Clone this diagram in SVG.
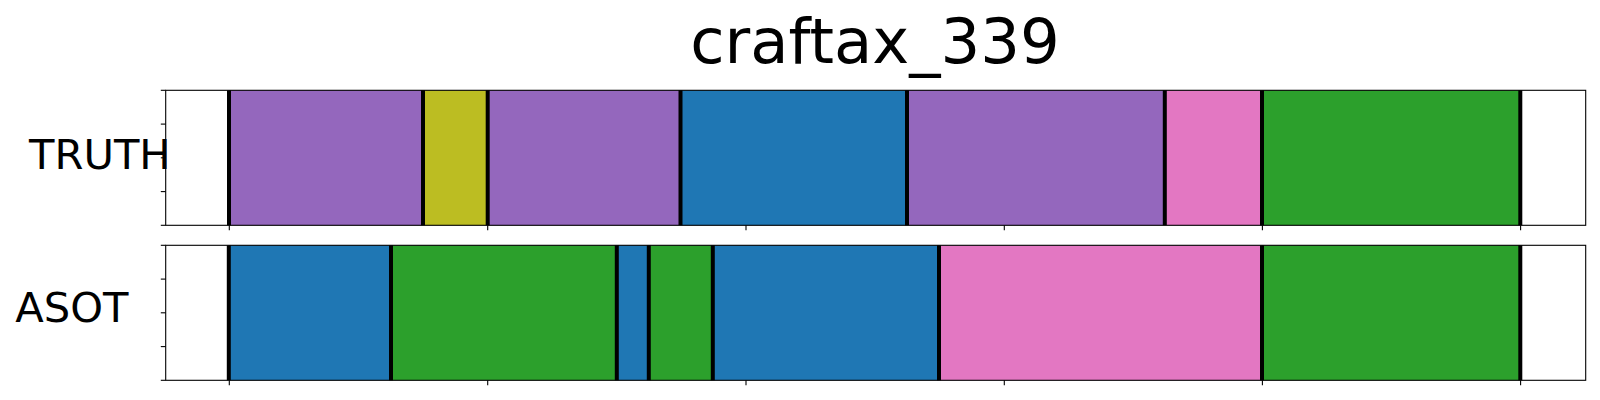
<svg xmlns="http://www.w3.org/2000/svg" width="1600" height="400" viewBox="0 0 1600 400">
<style>
.t{font-family:"DejaVu Sans","Liberation Sans",sans-serif;fill:#000}
.lbl{font-size:41.67px}
.ttl{font-size:62.5px}
.spine{fill:none;stroke:#000;stroke-width:1.1}
.tick{stroke:#000;stroke-width:1.1}
.b{stroke:#000;stroke-width:4}
.purple{fill:#9467bd}.olive{fill:#bcbd22}.blue{fill:#1f77b4}.pink{fill:#e377c2}.green{fill:#2ca02c}
</style>
<rect width="1600" height="400" fill="#fff"/>
<g id="title"><text class="t ttl" x="875" y="62.7" text-anchor="middle">craftax_339</text></g>

<g id="truth">
  <text class="t lbl" x="29" y="169.3">TRUTH</text>
  <g id="truth-segments">
    <rect class="purple" x="229" y="90.3" width="194" height="135"/>
    <rect class="olive" x="423" y="90.3" width="64.7" height="135"/>
    <rect class="purple" x="487.7" y="90.3" width="192.8" height="135"/>
    <rect class="blue" x="680.5" y="90.3" width="226.5" height="135"/>
    <rect class="purple" x="907" y="90.3" width="257.8" height="135"/>
    <rect class="pink" x="1164.8" y="90.3" width="97.2" height="135"/>
    <rect class="green" x="1262" y="90.3" width="258" height="135"/>
  </g>
  <g id="truth-bounds">
    <line class="b" x1="229" y1="90.3" x2="229" y2="225.3"/>
    <line class="b" x1="423" y1="90.3" x2="423" y2="225.3"/>
    <line class="b" x1="487.7" y1="90.3" x2="487.7" y2="225.3"/>
    <line class="b" x1="680.5" y1="90.3" x2="680.5" y2="225.3"/>
    <line class="b" x1="907" y1="90.3" x2="907" y2="225.3"/>
    <line class="b" x1="1164.8" y1="90.3" x2="1164.8" y2="225.3"/>
    <line class="b" x1="1262" y1="90.3" x2="1262" y2="225.3"/>
    <line class="b" x1="1520.3" y1="90.3" x2="1520.3" y2="225.3"/>
  </g>
  <rect class="spine" x="165.7" y="90.3" width="1420" height="135"/>
  <g id="truth-ticks">
    <line class="tick" x1="160.8" y1="90.3" x2="165.7" y2="90.3"/>
    <line class="tick" x1="160.8" y1="124.1" x2="165.7" y2="124.1"/>
    <line class="tick" x1="160.8" y1="157.8" x2="165.7" y2="157.8"/>
    <line class="tick" x1="160.8" y1="191.6" x2="165.7" y2="191.6"/>
    <line class="tick" x1="160.8" y1="225.3" x2="165.7" y2="225.3"/>
    <line class="tick" x1="229.3" y1="225.3" x2="229.3" y2="230.2"/>
    <line class="tick" x1="487.7" y1="225.3" x2="487.7" y2="230.2"/>
    <line class="tick" x1="746" y1="225.3" x2="746" y2="230.2"/>
    <line class="tick" x1="1004.3" y1="225.3" x2="1004.3" y2="230.2"/>
    <line class="tick" x1="1262.4" y1="225.3" x2="1262.4" y2="230.2"/>
    <line class="tick" x1="1520.6" y1="225.3" x2="1520.6" y2="230.2"/>
  </g>
</g>

<g id="asot">
  <text class="t lbl" x="15.2" y="321.7">ASOT</text>
  <g id="asot-segments">
    <rect class="blue" x="229" y="245.3" width="162" height="135"/>
    <rect class="green" x="391" y="245.3" width="225.8" height="135"/>
    <rect class="blue" x="616.8" y="245.3" width="32" height="135"/>
    <rect class="green" x="648.8" y="245.3" width="64" height="135"/>
    <rect class="blue" x="712.8" y="245.3" width="226.2" height="135"/>
    <rect class="pink" x="939" y="245.3" width="323" height="135"/>
    <rect class="green" x="1262" y="245.3" width="258" height="135"/>
  </g>
  <g id="asot-bounds">
    <line class="b" x1="228.8" y1="245.3" x2="228.8" y2="380.3"/>
    <line class="b" x1="391" y1="245.3" x2="391" y2="380.3"/>
    <line class="b" x1="616.8" y1="245.3" x2="616.8" y2="380.3"/>
    <line class="b" x1="648.8" y1="245.3" x2="648.8" y2="380.3"/>
    <line class="b" x1="712.8" y1="245.3" x2="712.8" y2="380.3"/>
    <line class="b" x1="939" y1="245.3" x2="939" y2="380.3"/>
    <line class="b" x1="1262" y1="245.3" x2="1262" y2="380.3"/>
    <line class="b" x1="1520.3" y1="245.3" x2="1520.3" y2="380.3"/>
  </g>
  <rect class="spine" x="165.7" y="245.3" width="1420" height="135"/>
  <g id="asot-ticks">
    <line class="tick" x1="160.8" y1="245.3" x2="165.7" y2="245.3"/>
    <line class="tick" x1="160.8" y1="279.1" x2="165.7" y2="279.1"/>
    <line class="tick" x1="160.8" y1="312.8" x2="165.7" y2="312.8"/>
    <line class="tick" x1="160.8" y1="346.6" x2="165.7" y2="346.6"/>
    <line class="tick" x1="160.8" y1="380.3" x2="165.7" y2="380.3"/>
    <line class="tick" x1="229.3" y1="380.3" x2="229.3" y2="385.2"/>
    <line class="tick" x1="487.7" y1="380.3" x2="487.7" y2="385.2"/>
    <line class="tick" x1="746" y1="380.3" x2="746" y2="385.2"/>
    <line class="tick" x1="1004.3" y1="380.3" x2="1004.3" y2="385.2"/>
    <line class="tick" x1="1262.4" y1="380.3" x2="1262.4" y2="385.2"/>
    <line class="tick" x1="1520.6" y1="380.3" x2="1520.6" y2="385.2"/>
  </g>
</g>
</svg>
